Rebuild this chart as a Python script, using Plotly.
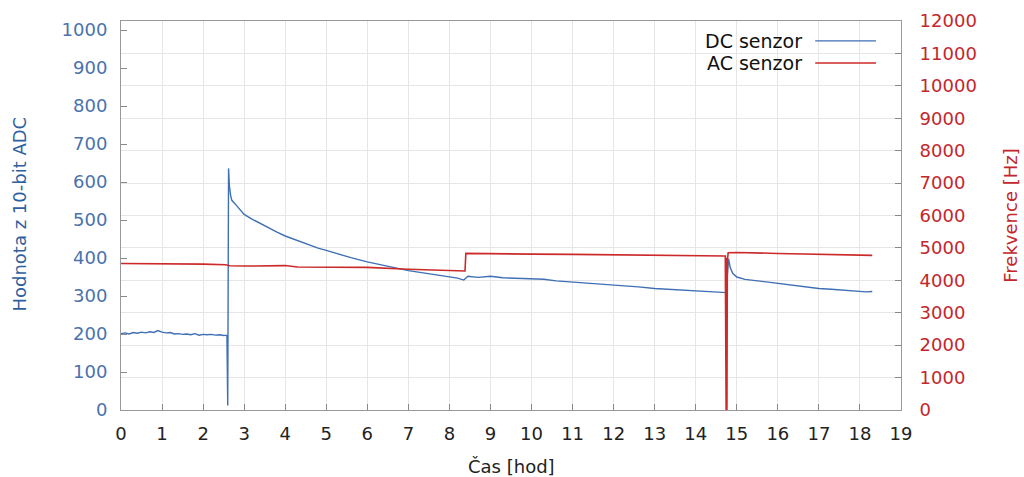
import plotly.graph_objects as go

# DC senzor (ADC value) vs time [h]
dc_t = [0.0, 0.1, 0.2, 0.3, 0.4, 0.5, 0.6, 0.7, 0.8, 0.9, 1.0, 1.1, 1.2, 1.3, 1.4, 1.5,
        1.6, 1.7, 1.8, 1.9, 2.0, 2.1, 2.2, 2.3, 2.4, 2.5, 2.58, 2.6, 2.62, 2.64, 2.67,
        2.7, 2.8, 2.9, 3.0, 3.2, 3.4, 3.6, 3.8, 4.0, 4.2, 4.4, 4.6, 4.8, 5.0, 5.3, 5.6,
        6.0, 6.3, 6.6, 7.0, 7.3, 7.6, 8.0, 8.2, 8.35, 8.45, 8.7, 9.0, 9.3, 9.6, 10.0,
        10.3, 10.6, 11.0, 11.3, 11.6, 12.0, 12.3, 12.6, 13.0, 13.3, 13.6, 14.0, 14.3,
        14.6, 14.74, 14.8, 14.84, 14.9, 15.0, 15.2, 15.5, 15.8, 16.0, 16.3, 16.6, 17.0,
        17.3, 17.6, 18.0, 18.15, 18.3]
dc_v = [201, 203, 200, 204, 202, 205, 203, 206, 204, 209, 205, 203, 204, 200, 201, 199,
        200, 198, 201, 197, 199, 198, 199, 197, 198, 196, 197, 12, 636, 590, 565,
        552, 540, 527, 515, 502, 490, 478, 468, 458, 450, 441, 433, 426, 420, 410, 401,
        390, 382, 376, 367, 362, 356, 350, 347, 342, 352, 349, 352, 348, 347, 346,
        344, 340, 337, 335, 332, 330, 326, 324, 320, 318, 317, 314, 312,
        310, 309, 398, 375, 360, 350, 344, 340, 337, 333, 329, 326, 320,
        318, 316, 313, 311, 312]

# AC senzor (frequency Hz) vs time [h]
ac_t = [0.0, 1.0, 2.0, 2.55, 2.65, 3.0, 3.5, 4.0, 4.3, 5.0, 6.0, 7.0, 8.0, 8.38, 8.4,
        9.0, 10.0, 11.0, 12.0, 13.0, 14.0, 14.72, 14.74, 14.75, 14.76, 14.77, 14.79,
        15.0, 16.0, 17.0, 18.0, 18.3]
ac_v = [4520, 4515, 4500, 4480, 4450, 4440, 4445, 4455, 4410, 4400, 4400, 4340, 4300, 4290, 4830,
        4830, 4810, 4800, 4790, 4780, 4770, 4750, 0, 4700, 0, 4600, 4850,
        4860, 4830, 4800, 4780, 4770]

x_ticks = list(range(0, 20))
y1_ticks = list(range(0, 1001, 100))
y2_ticks = list(range(0, 12001, 1000))
y2_labels = [str(v) for v in y2_ticks]

BLUE = "#3f6fb5"
BLUE_TXT = "#4a72ad"
RED = "#cc2a2a"
RED_TXT = "#c4262b"
FONT = "DejaVu Sans"

fig = go.Figure()
fig.add_trace(go.Scatter(x=dc_t, y=dc_v, mode="lines", name="DC senzor",
                         line=dict(color=BLUE, width=1.4), yaxis="y"))
fig.add_trace(go.Scatter(x=ac_t, y=ac_v, mode="lines", name="AC senzor",
                         line=dict(color=RED, width=1.6), yaxis="y2"))

fig.update_layout(
    width=1024, height=477,
    margin=dict(l=121, r=123, t=21, b=67),
    paper_bgcolor="white", plot_bgcolor="white",
    showlegend=False,
    font=dict(family=FONT, size=18, color="#222"),
    xaxis=dict(range=[0, 19], tickvals=x_ticks, ticks="inside", ticklen=6,
               tickcolor="#888", showgrid=True, gridcolor="#e6e6e6", gridwidth=1,
               showline=True, linecolor="#999", linewidth=1, mirror=True,
               zeroline=False, automargin=False, ticklabelstandoff=7,
               tickfont=dict(size=18, color="#222")),
    yaxis=dict(range=[0, 1024], tickvals=y1_ticks, ticks="inside", ticklen=6,
               tickcolor="#888", showgrid=False, zeroline=False, automargin=False,
               showline=True, linecolor="#999", linewidth=1, ticklabelstandoff=9,
               tickfont=dict(size=18, color=BLUE_TXT)),
    yaxis2=dict(range=[0, 12000], tickvals=y2_ticks, ticktext=y2_labels,
                overlaying="y", side="right", automargin=False,
                ticks="inside", ticklen=6, tickcolor="#888", ticklabelstandoff=14,
                showgrid=True, gridcolor="#e6e6e6", gridwidth=1, zeroline=False,
                showline=True, linecolor="#999", linewidth=1,
                tickfont=dict(size=18, color=RED_TXT)),
)

# axis titles
fig.add_annotation(xref="paper", yref="paper", x=0.5, y=-0.144, text="Čas [hod]",
                   showarrow=False, xanchor="center", yanchor="middle",
                   font=dict(family=FONT, size=18, color="#222"))
fig.add_annotation(xref="paper", yref="paper", x=-0.1295, y=0.505, text="Hodnota z 10-bit ADC",
                   showarrow=False, xanchor="center", yanchor="middle", textangle=-90,
                   font=dict(family=FONT, size=18, color="#2f5f9e"))
fig.add_annotation(xref="paper", yref="paper", x=1.140, y=0.5, text="Frekvence [Hz]",
                   showarrow=False, xanchor="center", yanchor="middle", textangle=-90,
                   font=dict(family=FONT, size=18, color=RED_TXT))

# gnuplot-style legend: text then line sample
legend_items = [("DC senzor", BLUE, 0.949), ("AC senzor", RED, 0.892)]
for name, col, yy in legend_items:
    fig.add_annotation(xref="paper", yref="paper", x=0.875, y=yy, text=name,
                       showarrow=False, xanchor="right", yanchor="middle",
                       font=dict(family=FONT, size=19, color="#111"))
    fig.add_shape(type="line", xref="paper", yref="paper", x0=0.890, x1=0.968,
                  y0=yy, y1=yy, line=dict(color=col, width=1.4))

fig.write_html("out.html", config={"displayModeBar": False},
               post_script="document.body.style.margin='0';document.body.style.overflow='hidden';")
